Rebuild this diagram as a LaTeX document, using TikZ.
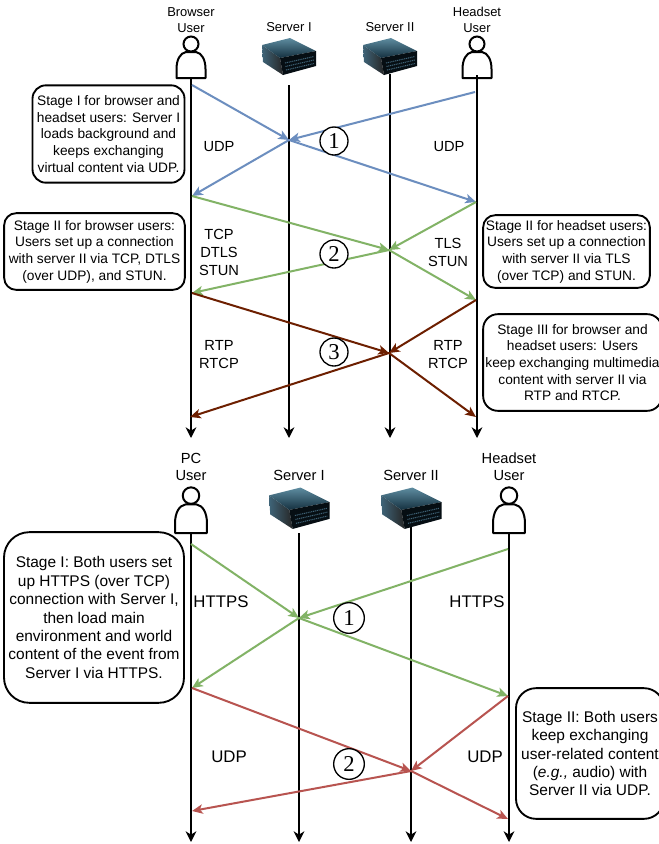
\documentclass[tikz,border=0pt]{standalone}
\usepackage{fontspec}
\setmainfont{Liberation Sans}
\newfontfamily\numfont{Liberation Serif}
\usetikzlibrary{arrows.meta}
\definecolor{cblue}{HTML}{6C8EBF}
\definecolor{cgreen}{HTML}{82B366}
\definecolor{cbrown}{HTML}{6D1F00}
\definecolor{cred}{HTML}{B85450}
\definecolor{srvA}{HTML}{0E2A3A}
\definecolor{srvB}{HTML}{3F6478}
\definecolor{srvC}{HTML}{14303F}
\definecolor{srvD}{HTML}{5E8CA0}
\tikzset{
  lifeline/.style={line width=1.5pt,black,-{Stealth[length=8pt,width=8pt,inset=2.5pt]}},
  lifeplain/.style={line width=1.5pt,black},
  msg/.style={line width=1.5pt,-{Stealth[length=8pt,width=7pt,inset=2pt]}},
  stagebox/.style={draw=black,fill=white,line width=1.4pt,align=center,inner sep=0pt},
  topfont/.style={font=\fontsize{10.3}{12.5}\selectfont},
  botfont/.style={font=\fontsize{11.6}{13.8}\selectfont},
  headtop/.style={font=\fontsize{9.7}{12}\selectfont,align=center},
  headbot/.style={font=\fontsize{11}{12.8}\selectfont,align=center},
  prottop/.style={font=\fontsize{11}{13.5}\selectfont,align=center},
  protbot/.style={font=\fontsize{12.6}{15}\selectfont,align=center},
  stepcircle/.style={circle,draw=black,fill=white,line width=1pt,inner sep=0pt,font=\numfont\fontsize{17}{17}\selectfont},
  pics/personicon/.style={code={
    \draw[black,line width=1.5pt,fill=white,line join=round]
      (-14.5,0) -- (-14.5,-9) .. controls (-14.5,-18) and (-11,-25) .. (-5,-26)
      -- (5,-26) .. controls (11,-25) and (14.5,-18) .. (14.5,-9) -- (14.5,0) -- cycle;
    \draw[black,line width=1.5pt,fill=white] (0,-34) circle [radius=7.5];
  }},
  pics/servericon/.style={code={
    \shade[left color=srvB,right color=black!85] (1,7) -- (19,20) -- (22,37) -- (2,24) -- cycle;
    \shade[top color=srvD,bottom color=srvC] (1,7) -- (29,0) -- (55,13) -- (19,20) -- cycle;
    \fill[black!70!srvC] (19,20) -- (55,13) -- (55,28) -- (22,37) -- cycle;
    \draw[srvB,line width=0.8pt,dash pattern=on 0.8pt off 0.6pt] (24,25) -- (53,18.5);
    \draw[srvB,line width=0.8pt,dash pattern=on 0.8pt off 0.6pt] (24.5,28.5) -- (53,22);
    \draw[srvB,line width=0.8pt,dash pattern=on 0.8pt off 0.6pt] (25,32) -- (53,25.5);
  }},
}
\begin{document}
\begin{tikzpicture}[x=0.75pt,y=-0.75pt]
\useasboundingbox (0,0) rectangle (659,844);
\fill[white] (0,0) rectangle (659,844);

% ---------- top diagram ----------
\coordinate (tBs) at (191,78);  \coordinate (tBe) at (191,438);
\coordinate (tAs) at (289,85);  \coordinate (tAe) at (289,438);
\coordinate (tCs) at (390,74);  \coordinate (tCe) at (390,438);
\coordinate (tHs) at (477,75);  \coordinate (tHe) at (477,438);
\draw[lifeline] (tBs) -- (tBe);
\draw[lifeline] (tAs) -- (tAe);
\draw[lifeline] (tCs) -- (tCe);

\pic at (191,78) {personicon};
\pic at (477,78) {personicon};
\pic at (261,38) {servericon};
\pic at (362,38) {servericon};
\draw[lifeline] (tHs) -- (tHe);

\node[headtop] (tBl) at (191,20) {Browser\\User};
\node[headtop] (tAl) at (289,27) {Server I};
\node[headtop] (tCl) at (390,27) {Server II};
\node[headtop] (tHl) at (477,20) {Headset\\User};

\coordinate (h1) at (289,140);
\coordinate (h2) at (389,250);
\coordinate (h3) at (389,353);
\coordinate (b1) at (192,85);
\coordinate (b2) at (192,196);
\coordinate (b3) at (192,293);
\coordinate (b4) at (190,417);
\coordinate (r1) at (475,92);
\coordinate (r2) at (476,202);
\coordinate (r3) at (476,300);
\coordinate (r4) at (476,417);

\draw[msg,cblue] (b1) -- (h1);
\draw[msg,cblue] (r1) -- (h1);
\draw[msg,cblue] (h1) -- (b2);
\draw[msg,cblue] (h1) -- (r2);
\draw[msg,cgreen] (b2) -- (h2);
\draw[msg,cgreen] (r2) -- (h2);
\draw[msg,cgreen] (h2) -- (b3);
\draw[msg,cgreen] (h2) -- (r3);
\draw[msg,cbrown] (b3) -- (h3);
\draw[msg,cbrown] (r3) -- (h3);
\draw[msg,cbrown] (h3) -- (b4);
\draw[msg,cbrown] (h3) -- (r4);

\node[stepcircle,minimum size=21pt] (n1) at (334,141) {1};
\node[stepcircle,minimum size=21pt] (n2) at (334,254) {2};
\node[stepcircle,minimum size=21pt] (n3) at (334,352) {3};

\node[prottop] (p1) at (219,147) {UDP};
\node[prottop] (p2) at (449,147) {UDP};
\node[prottop] (p3) at (219,252) {TCP\\DTLS\\STUN};
\node[prottop] (p4) at (448,252) {TLS\\STUN};
\node[prottop] (p5) at (219,355) {RTP\\RTCP};
\node[prottop] (p6) at (448,355) {RTP\\RTCP};

\node[stagebox,topfont,rounded corners=10pt,minimum width=114pt,minimum height=73pt] (s1) at (108.5,134)
  {Stage I for browser and\\headset users: Server I\\loads background and\\keeps exchanging\\virtual content via UDP.};
\node[stagebox,topfont,rounded corners=9pt,minimum width=135.5pt,minimum height=57.5pt] (s2) at (94.5,251.5)
  {Stage II for browser users:\\Users set up a connection\\with server II via TCP, DTLS\\(over UDP), and STUN.};
\node[stagebox,topfont,rounded corners=9pt,minimum width=125pt,minimum height=54.5pt] (s3) at (566.5,251.5)
  {Stage II for headset users:\\Users set up a connection\\with server II via TLS\\(over TCP) and STUN.};
\node[stagebox,topfont,rounded corners=11pt,minimum width=134pt,minimum height=72.5pt] (s4) at (572.5,362.5)
  {Stage III for browser and\\headset users: Users\\keep exchanging multimedia\\content with server II via\\RTP and RTCP.};

% ---------- bottom diagram ----------
\coordinate (dBs) at (191,533); \coordinate (dBe) at (191,842);
\coordinate (dAs) at (299,533); \coordinate (dAe) at (299,842);
\coordinate (dCs) at (411,527); \coordinate (dCe) at (411,842);
\coordinate (dHs) at (509,533); \coordinate (dHe) at (509,842);
\draw[lifeline] (dBs) -- (dBe);
\draw[lifeline] (dAs) -- (dAe);
\draw[lifeline] (dCs) -- (dCe);
\draw[lifeline] (dHs) -- (dHe);

\pic[scale=1.1] at (191,533) {personicon};
\pic[scale=1.1] at (509,533) {personicon};
\pic[scale=1.12] at (268,487.5) {servericon};
\pic[scale=1.12] at (380,487.5) {servericon};

\node[headbot] (dBl) at (191,467) {PC\\User};
\node[headbot] (dAl) at (299,475) {Server I};
\node[headbot] (dCl) at (411,475) {Server II};
\node[headbot] (dHl) at (509,467) {Headset\\User};

\coordinate (k1) at (299,618);
\coordinate (k2) at (411,771);
\coordinate (l1) at (191,544);
\coordinate (l2) at (192,688);
\coordinate (l3) at (192,811);
\coordinate (m1) at (508,549);
\coordinate (m2) at (508,696);
\coordinate (m3) at (508,819);

\draw[msg,cgreen] (l1) -- (k1);
\draw[msg,cgreen] (m1) -- (k1);
\draw[msg,cgreen] (k1) -- (l2);
\draw[msg,cgreen] (k1) -- (m2);
\draw[msg,cred] (l2) -- (k2);
\draw[msg,cred] (m2) -- (k2);
\draw[msg,cred] (k2) -- (l3);
\draw[msg,cred] (k2) -- (m3);

\node[stepcircle,minimum size=23pt] (c1) at (349,618) {1};
\node[stepcircle,minimum size=23pt] (c2) at (349,764) {2};

\node[protbot] (q1) at (221,602) {HTTPS};
\node[protbot] (q2) at (477,602) {HTTPS};
\node[protbot] (q3) at (229,757) {UDP};
\node[protbot] (q4) at (485,757) {UDP};

\node[stagebox,botfont,rounded corners=19pt,minimum width=135pt,minimum height=128pt] (t1) at (94,617.5)
  {Stage I: Both users set\\up HTTPS (over TCP)\\connection with Server I,\\then load main\\environment and world\\content of the event from\\Server I via HTTPS.};
\node[stagebox,botfont,rounded corners=15pt,minimum width=111pt,minimum height=98pt] (t2) at (590,753.5)
  {Stage II: Both users\\keep exchanging\\user-related content\\(\emph{e.g.,} audio) with\\Server II via UDP.};
\end{tikzpicture}
\end{document}
